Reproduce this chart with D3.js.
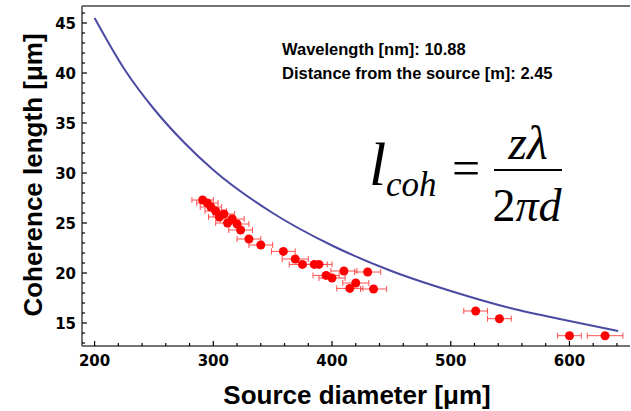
<!DOCTYPE html>
<html><head><meta charset="utf-8">
<script src="https://cdn.jsdelivr.net/npm/d3@7"></script>
<style>html,body{margin:0;padding:0;background:#fff;}svg{display:block;}</style>
</head><body>
<svg id="c" width="631" height="411"></svg>
<script>
// measured data (source diameter µm, coherence length µm, x error µm)
const diameters = [291,295,298,302,305,309,312,316,320,323,330,340,359,369,375,385,389,395,400,410,415,420,430,435,521,541,600,630];
const coherence = [27.3,27.0,26.6,26.2,25.6,25.9,25.0,25.4,24.9,24.3,23.4,22.8,22.16,21.4,20.86,20.86,20.86,19.76,19.5,20.2,18.46,19.0,20.1,18.4,16.2,15.43,13.73,13.73];
const xErrors   = [9,9,9,9,9,9,10,10,10,10,10,10,10,11,11,11,11,11,11,11,11,11,11,11,10,10,10,15];
// theory curve sampled from the plot
const curveD = [200,225,250,275,300,350,400,450,500,550,600,641];
const curveL = [45.5,40.4,36.4,33.1,30.3,26.0,22.75,20.2,18.2,16.5,15.2,14.2];
const xTicks = [200,300,400,500,600];
const yTicks = [15,20,25,30,35,40,45];

const svg = d3.select("#c");
const x = d3.scaleLinear().domain([189.4, 651.0]).range([82, 630]);
const y = d3.scaleLinear().domain([12.7, 46.7]).range([346, 6]);
const axisCol = "#444";

// frame: left, bottom, top
svg.append("line").attr("x1",82).attr("x2",630).attr("y1",346).attr("y2",346).attr("stroke",axisCol).attr("stroke-width",1.5);
svg.append("line").attr("x1",82).attr("x2",82).attr("y1",6).attr("y2",346).attr("stroke",axisCol).attr("stroke-width",1.5);
svg.append("line").attr("x1",82).attr("x2",630).attr("y1",6).attr("y2",6).attr("stroke",axisCol).attr("stroke-width",1.5);

// x ticks
const xMinor = d3.range(200, 651, 20);
svg.selectAll(".xt").data(xMinor).join("line")
  .attr("x1",d=>x(d)).attr("x2",d=>x(d))
  .attr("y1",346).attr("y2",d=> xTicks.includes(d)?341:343)
  .attr("stroke","#000").attr("stroke-width",1.2);
svg.selectAll(".xl").data(xTicks).join("text")
  .attr("x",d=>x(d)).attr("y",366).attr("text-anchor","middle")
  .attr("font-family","DejaVu Sans").attr("font-weight","bold").attr("font-size",15)
  .text(d=>d);

// y ticks
const yMinor = d3.range(13, 47, 1);
svg.selectAll(".yt").data(yMinor).join("line")
  .attr("x1",82).attr("x2",d=> yTicks.includes(d)?87:85)
  .attr("y1",d=>y(d)).attr("y2",d=>y(d))
  .attr("stroke","#000").attr("stroke-width",1.2);
svg.selectAll(".yl").data(yTicks).join("text")
  .attr("x",76).attr("y",d=>y(d)+5.5).attr("text-anchor","end")
  .attr("font-family","DejaVu Sans").attr("font-weight","bold").attr("font-size",15)
  .text(d=>d);

// axis titles
svg.append("text").attr("x",357).attr("y",404).attr("text-anchor","middle")
  .attr("font-family","Liberation Sans, Arial").attr("font-weight","bold").attr("font-size",26)
  .text("Source diameter [μm]");
svg.append("text").attr("transform","translate(42,175) rotate(-90)").attr("text-anchor","middle")
  .attr("font-family","Liberation Sans, Arial").attr("font-weight","bold").attr("font-size",26)
  .text("Coherence length [μm]");

// theory curve
const pts = curveD.map((d,i)=>[d,curveL[i]]);
svg.append("path").datum(pts)
  .attr("d", d3.line().x(p=>x(p[0])).y(p=>y(p[1])).curve(d3.curveMonotoneX))
  .attr("fill","none").attr("stroke","#4a4aa2").attr("stroke-width",2);

// error bars
const data = diameters.map((d,i)=>({d, l:coherence[i], e:xErrors[i]}));
const eb = svg.append("g").attr("stroke","#ff5050").attr("stroke-width",1);
data.forEach(p=>{
  eb.append("line").attr("x1",x(p.d-p.e)).attr("x2",x(p.d+p.e)).attr("y1",y(p.l)).attr("y2",y(p.l));
  eb.append("line").attr("x1",x(p.d-p.e)).attr("x2",x(p.d-p.e)).attr("y1",y(p.l)-3).attr("y2",y(p.l)+3);
  eb.append("line").attr("x1",x(p.d+p.e)).attr("x2",x(p.d+p.e)).attr("y1",y(p.l)-3).attr("y2",y(p.l)+3);
});
svg.selectAll(".pt").data(data).join("circle")
  .attr("cx",p=>x(p.d)).attr("cy",p=>y(p.l)).attr("r",4.5).attr("fill","#ff0000");

// info text
const info = svg.append("g").attr("font-family","Liberation Sans, Arial").attr("font-weight","bold").attr("font-size",16.5);
info.append("text").attr("x",282).attr("y",55).text("Wavelength [nm]: 10.88");
info.append("text").attr("x",282).attr("y",79).text("Distance from the source [m]: 2.45");

// formula
const f = svg.append("g").attr("font-family","Liberation Serif, Times New Roman");
f.append("text").attr("x",369).attr("y",185).attr("font-style","italic").attr("font-size",62).text("l");
f.append("text").attr("x",386).attr("y",196).attr("font-style","italic").attr("font-size",35).text("coh");
f.append("text").attr("x",466).attr("y",185).attr("text-anchor","middle").attr("font-size",50).text("=");
f.append("text").attr("x",528).attr("y",159).attr("text-anchor","middle").attr("font-style","italic").attr("font-size",48).text("zλ");
f.append("line").attr("x1",494).attr("x2",562).attr("y1",170).attr("y2",170).attr("stroke","#000").attr("stroke-width",2);
f.append("text").attr("x",527).attr("y",221).attr("text-anchor","middle").attr("font-size",46)
  .html('2<tspan font-style="italic">πd</tspan>');
</script>
</body></html>
